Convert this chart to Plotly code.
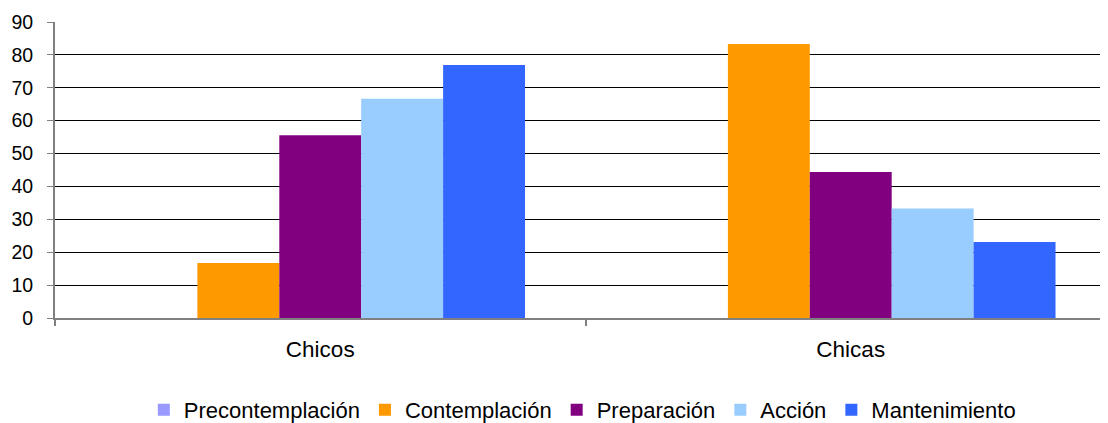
import plotly.graph_objects as go

categories = ["Chicos", "Chicas"]
series_names = ["Precontemplación", "Contemplación", "Preparación", "Acción", "Mantenimiento"]
precontemplacion = [0, 0]
contemplacion = [16.7, 83.3]
preparacion = [55.6, 44.4]
accion = [66.7, 33.3]
mantenimiento = [76.9, 23.1]
colors = ["#9999FF", "#FF9900", "#800080", "#99CCFF", "#3366FF"]
y_ticks = [0, 10, 20, 30, 40, 50, 60, 70, 80, 90]

values = [precontemplacion, contemplacion, preparacion, accion, mantenimiento]

fig = go.Figure()
for name, vals, col in zip(series_names, values, colors):
    fig.add_trace(go.Bar(
        x=categories, y=vals, name=name,
        marker=dict(color=col, line=dict(width=0)),
    ))

font_family = "Liberation Sans, Arial, sans-serif"
fig.update_layout(
    width=1108, height=423,
    margin=dict(l=47, r=0, t=14, b=112),
    paper_bgcolor="white", plot_bgcolor="white",
    barmode="group", bargap=0.228, bargroupgap=0,
    font=dict(family=font_family, color="black", size=22),
    showlegend=True,
    legend=dict(orientation="h", x=0.497, xanchor="center", y=-0.31, yanchor="middle",
                font=dict(size=22, family=font_family), itemwidth=30, traceorder="normal"),
    xaxis=dict(range=[-0.5, 1.5], tickson="boundaries", ticks="outside", ticklen=6,
               tickcolor="#808080", tickwidth=2, showline=True, linecolor="#808080", linewidth=2,
               showgrid=False, tickfont=dict(size=22.5), ticklabelstandoff=10, automargin=False),
    yaxis=dict(range=[0, 90], tickvals=y_ticks, ticks="outside", ticklen=6, tickcolor="#808080",
               tickwidth=1, showline=True, linecolor="#808080", linewidth=2,
               showgrid=True, gridcolor="#000000", gridwidth=1, zeroline=False,
               tickfont=dict(size=19.5), ticklabelstandoff=10, automargin=False),
)

fig.write_html("out.html")
